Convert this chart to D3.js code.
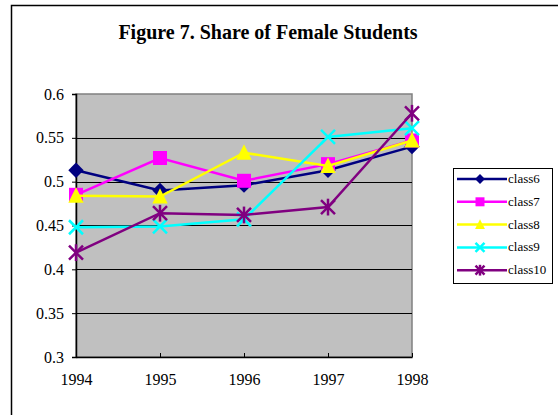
<!DOCTYPE html>
<html lang="en">
  <head>
    <meta charset="UTF-8" />
    <title>Share of Female Students</title>
    <script src="https://cdn.jsdelivr.net/npm/d3@7"></script>
    <style>
      body { margin: 0; background: #fff; }
    </style>
  </head>
  <body>
    <svg width="558" height="415"></svg>
    <script>
      const years = [1994, 1995, 1996, 1997, 1998];
      const yTicks = [0.3, 0.35, 0.4, 0.45, 0.5, 0.55, 0.6];
      const class6 = [0.513, 0.490, 0.496, 0.513, 0.540];
      const class7 = [0.485, 0.527, 0.501, 0.520, 0.547];
      const class8 = [0.484, 0.483, 0.533, 0.518, 0.547];
      const class9 = [0.448, 0.449, 0.457, 0.551, 0.561];
      const class10 = [0.419, 0.464, 0.462, 0.471, 0.578];
      const seriesNames = ["class6", "class7", "class8", "class9", "class10"];
      const seriesColors = ["#000080", "#ff00ff", "#ffff00", "#00ffff", "#800080"];
      const seriesShapes = ["diamond", "square", "triangle", "x", "star"];
      const series = [class6, class7, class8, class9, class10];

      const serif = "Liberation Serif";
      const svg = d3.select("svg");
      const margin = { left: 76, top: 94, right: 412, bottom: 357 };

      // outer frame
      svg.append("path")
        .attr("d", "M11.5,420 V5.5 H570")
        .attr("fill", "none").attr("stroke", "#000").attr("stroke-width", 1.5);

      svg.append("text")
        .attr("x", 268).attr("y", 39)
        .attr("text-anchor", "middle")
        .attr("font-family", serif)
        .attr("font-size", 20).attr("font-weight", "bold")
        .text("Figure 7. Share of Female Students");

      const x = d3.scalePoint().domain(years).range([margin.left, margin.right]);
      const y = d3.scaleLinear().domain([0.3, 0.6]).range([margin.bottom, margin.top]);

      svg.append("rect")
        .attr("x", margin.left).attr("y", margin.top)
        .attr("width", margin.right - margin.left)
        .attr("height", margin.bottom - margin.top)
        .attr("fill", "#c0c0c0").attr("stroke", "#808080").attr("stroke-width", 1.5);

      // gridlines
      svg.append("g").selectAll("line")
        .data(yTicks.slice(1, -1))
        .join("line")
        .attr("x1", margin.left).attr("x2", margin.right)
        .attr("y1", d => Math.round(y(d)) + 0.5).attr("y2", d => Math.round(y(d)) + 0.5)
        .attr("stroke", "#000");

      const yAxis = svg.append("g")
        .attr("transform", `translate(${margin.left},0)`)
        .call(d3.axisLeft(y).tickValues(yTicks).tickSize(4).tickPadding(8)
          .tickFormat(d => String(+d.toFixed(2))));
      yAxis.attr("font-family", serif).attr("font-size", 16);
      yAxis.select(".domain").attr("stroke-width", 1.5);
      yAxis.selectAll("text").attr("fill", "#000");

      const xAxis = svg.append("g")
        .attr("transform", `translate(0,${margin.bottom})`)
        .call(d3.axisBottom(x).tickSizeInner(-4).tickSizeOuter(0).tickPadding(17));
      xAxis.attr("font-family", serif).attr("font-size", 16);
      xAxis.select(".domain").attr("stroke-width", 1.5);
      xAxis.selectAll("text").attr("fill", "#000");

      function marker(g, shape, color, s) {
        if (shape === "diamond") {
          const h = s * 0.55;
          g.append("path").attr("d", `M0,${-h}L${h},0L0,${h}L${-h},0Z`).attr("fill", color);
        } else if (shape === "square") {
          g.append("rect").attr("x", -s / 2).attr("y", -s / 2).attr("width", s).attr("height", s).attr("fill", color);
        } else if (shape === "triangle") {
          g.append("path").attr("d", `M0,${-s * 0.6}L${s * 0.55},${s * 0.5}L${-s * 0.55},${s * 0.5}Z`).attr("fill", color);
        } else {
          const h = s * 0.5;
          g.append("path").attr("d", `M${-h},${-h}L${h},${h}M${-h},${h}L${h},${-h}`)
            .attr("stroke", color).attr("stroke-width", 2.5);
          if (shape === "star") {
            g.append("path").attr("d", `M0,${-h * 1.2}V${h * 1.2}`)
              .attr("stroke", color).attr("stroke-width", 2.5);
          }
        }
      }

      const line = d3.line().x((d, i) => x(years[i])).y(d => y(d));

      series.forEach((vals, k) => {
        svg.append("path")
          .attr("d", line(vals))
          .attr("fill", "none")
          .attr("stroke", seriesColors[k])
          .attr("stroke-width", 2.5);
        svg.append("g").selectAll("g")
          .data(vals)
          .join("g")
          .attr("transform", (d, i) => `translate(${x(years[i])},${y(d)})`)
          .each(function () { marker(d3.select(this), seriesShapes[k], seriesColors[k], 14); });
      });

      // legend
      const legend = svg.append("g");
      legend.append("rect")
        .attr("x", 453.5).attr("y", 168.5).attr("width", 99).attr("height", 115)
        .attr("fill", "#fff").attr("stroke", "#000");
      seriesNames.forEach((name, k) => {
        const ly = 179 + k * 22.8;
        legend.append("line")
          .attr("x1", 457).attr("x2", 507).attr("y1", ly).attr("y2", ly)
          .attr("stroke", seriesColors[k]).attr("stroke-width", 2.5);
        marker(legend.append("g").attr("transform", `translate(480,${ly})`), seriesShapes[k], seriesColors[k], 9);
        legend.append("text")
          .attr("x", 508).attr("y", ly + 4)
          .attr("font-family", serif)
          .attr("font-size", 13)
          .text(name);
      });
    </script>
  </body>
</html>
